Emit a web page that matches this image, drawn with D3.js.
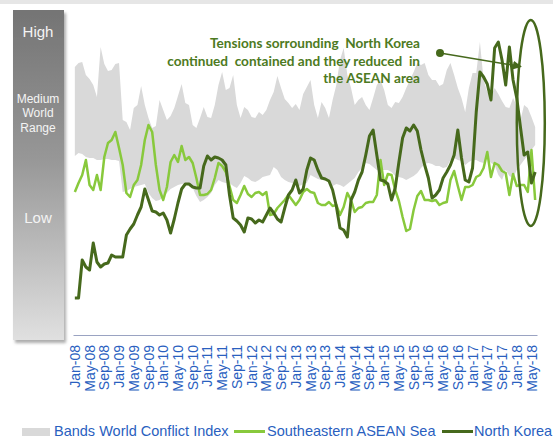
<!DOCTYPE html>
<html>
<head>
<meta charset="utf-8">
<title>World Conflict Index - North Korea vs ASEAN</title>
<script src="https://cdnjs.cloudflare.com/ajax/libs/d3/7.8.5/d3.min.js"></script>
<style>
  body { margin: 0; background: #fff; }
  svg { display: block; font-family: "Liberation Sans", Arial, sans-serif; }
</style>
</head>
<body>
<div id="chart"></div>
<script>
// monthly index values, Jan-08 .. Jun-18 (unitless index, 0 = bottom of chart)
var bandHigh = [131.5,133.5,134,127.5,125.5,122.5,116.5,141.5,133,129.5,
  130,133,133.5,105,104,100,111,112.5,122,112.5,
  106,101,102,115,110,105,107,111,117,123,
  113.5,112.5,102.5,101,106,111.5,106.5,106,112.5,122.5,
  129,120,121,127.5,112.5,106,111.5,110,106.5,106,
  109,107.5,110,115,119,127,121,115.5,113.5,111,
  113,110,118,121.5,125,112.5,106,114,111,106,
  115,122.5,135,141,127.5,121,112.5,115,116.5,112.5,
  110,116,122.5,125,120,112.5,111,114,113.5,116.5,
  121,125,129,133.5,132.5,133.5,127.5,125,125,122,
  123,130,133.5,127.5,121,116,109,121,128.5,128.5,
  144,125,119,117,121,118,114.5,111.5,111,116,
  112,105,112.5,111,106.5,101.5];

var bandLow = [87,88.5,88,86.5,86,86,85,85,85.5,85.5,
  85,85,84.5,69,69.5,70.5,71.5,72,72.5,73,
  68.5,66,64.5,65,66.5,68.5,70.5,71.5,72.5,73,
  73.5,73.5,71,67,64,65,66.5,68.5,72.5,75,
  74,73.5,73.5,72,71,73.5,77,76,74.5,74,
  75,76.5,77,77.5,81.5,80,76.5,75,74,73.5,
  72.5,72,73,73.5,77.5,76.5,75.5,75,76,73.5,
  72,73,72.5,71.5,73,74.5,76,79,81,83.5,
  83,81.5,80,80,80,80,79,77,76.5,76,
  75,76,77,78.5,81,83,83.5,83,82,82,
  81,81.5,85,86,85,84.5,82.5,84,85,85,
  84,83.5,86,83.5,82.5,77.5,75,80,77,76,
  80,82.5,85,87.5,90,92.5];

var asean = [69,73.5,77.5,85,72.5,70,77.5,70,86.5,93.5,
  95,99,91,82.5,68.5,66.5,72.5,75,82.5,95,
  102.5,99,82.5,70,65,71.5,84,87.5,84,92,
  85,86.5,83.5,76,67.5,67.5,68,70,76,83.5,
  82,79,72,65,63.5,67.5,72,68,66.5,68.5,
  69,67.5,69,57.5,58,61,63,65,67.5,65,
  62.5,65,69,70.5,69,68.5,63.5,62.5,62.5,64,
  62,62.5,57.5,61.5,68.5,65,59,61,61.5,63.5,
  64,64,67.5,85,72.5,78,77.5,70,64.5,56.5,
  49.5,50.5,60,67,69.5,65,65,64.5,65,62.5,
  63.5,64,75,79.5,72,65,71.5,71.5,72.5,76.5,
  77.5,81,89,76.5,83.5,82.5,79.5,78.5,67.5,78,
  72,72.5,72.5,69,90,65];

var northKorea = [16,16,35,31.5,30,43.5,34,31.5,33,33.5,
  37.5,36.5,36.5,36.5,47.5,50.5,53,57.5,61.5,70.5,
  65,59.5,59,57.5,58.5,55,48.5,55.5,63.5,70.5,
  73,73,71.5,71,71,82,87,85,86.5,86,
  85,82.5,67.5,56,54.5,52.5,49,56,55.5,53.5,
  55,54,57.5,61,58.5,55.5,54,61,67.5,70,
  75,68.5,70.5,80,86,85,80,76,75.5,74.5,
  70,62,51,50,46.5,65,69,75,79,87.5,
  97,100,87.5,75,74.5,73,65,71,84,96,
  101,99.5,102.5,99.5,90,82.5,76,66,67.5,70,
  76,79,82.5,87.5,100,86,75,74,81,109,
  129,126.5,123,115,141,144,135,122.5,141.5,125,
  116,101.5,87.5,89,73.5,79];

var tickLabels = ["Jan-08","May-08","Sep-08","Jan-09","May-09","Sep-09","Jan-10","May-10",
  "Sep-10","Jan-11","May-11","Sep-11","Jan-12","May-12","Sep-12","Jan-13","May-13","Sep-13",
  "Jan-14","May-14","Sep-14","Jan-15","May-15","Sep-15","Jan-16","May-16","Sep-16","Jan-17",
  "May-17","Sep-17","Jan-18","May-18"];

var levelLabels = ["High", "Medium", "World", "Range", "Low"];
var seriesNames = ["Bands World Conflict Index", "Southeastern ASEAN Sea", "North Korea"];
var noteLines = ["Tensions sorrounding\u00a0 North Korea", "continued\u00a0 contained and they reduced\u00a0 in", "the ASEAN area"];

var W = 553, H = 439;
var lightGreen = "#88c93c", darkGreen = "#46691c", bandGray = "#d9d9d9", blue = "#2a5fbf";

var fmt = d3.timeFormat("%b-%y");
var months = d3.timeMonths(new Date(2008, 0, 1), new Date(2018, 6, 1)).map(fmt);

var x = d3.scaleBand().domain(months).range([73, 537]).padding(0);
var y = d3.scaleLinear().domain([0, 160]).range([330, 10]);
var cx = function(i){ return x(months[i]) + x.bandwidth() / 2; };

var svg = d3.select("#chart").append("svg")
  .attr("width", W).attr("height", H);

var defs = svg.append("defs");
var grad = defs.append("linearGradient").attr("id", "barGrad")
  .attr("x1", 0).attr("y1", 0).attr("x2", 0).attr("y2", 1);
grad.append("stop").attr("offset", "0%").attr("stop-color", "#747474");
grad.append("stop").attr("offset", "45%").attr("stop-color", "#979797");
grad.append("stop").attr("offset", "100%").attr("stop-color", "#e0e0e0");

var shadow = defs.append("filter").attr("id", "shadow")
  .attr("x", "-20%").attr("y", "-5%").attr("width", "150%").attr("height", "115%");
shadow.append("feDropShadow").attr("dx", 2).attr("dy", 3)
  .attr("stdDeviation", 1.5).attr("flood-color", "#777").attr("flood-opacity", 0.6);

defs.append("marker").attr("id", "arrow")
  .attr("viewBox", "0 0 10 10").attr("refX", 9).attr("refY", 5)
  .attr("markerWidth", 6).attr("markerHeight", 6).attr("orient", "auto")
  .append("path").attr("d", "M0,0L10,5L0,10z").attr("fill", darkGreen);

// top strip
svg.append("rect").attr("x", 0).attr("y", 0).attr("width", W).attr("height", 4)
  .attr("fill", "#e6e6e6");

// left level bar
svg.append("rect").attr("x", 13).attr("y", 10).attr("width", 51).attr("height", 330)
  .attr("fill", "url(#barGrad)").attr("filter", "url(#shadow)");

var lvl = svg.append("g").attr("fill", "#f4f4f4").attr("text-anchor", "middle");
lvl.append("text").attr("x", 38).attr("y", 37).attr("font-size", 15).text(levelLabels[0]);
lvl.append("text").attr("x", 38).attr("y", 103).attr("font-size", 12).text(levelLabels[1]);
lvl.append("text").attr("x", 38).attr("y", 117).attr("font-size", 12).text(levelLabels[2]);
lvl.append("text").attr("x", 38).attr("y", 132).attr("font-size", 12).text(levelLabels[3]);
lvl.append("text").attr("x", 38).attr("y", 223).attr("font-size", 15).text(levelLabels[4]);

// conflict band
var area = d3.area()
  .x(function(d, i){ return cx(i); })
  .y0(function(d, i){ return y(bandLow[i]); })
  .y1(function(d){ return y(d); });
svg.append("path").datum(bandHigh).attr("d", area).attr("fill", bandGray);

var line = d3.line()
  .x(function(d, i){ return cx(i); })
  .y(function(d){ return y(d); });

svg.append("path").datum(asean).attr("d", line)
  .attr("fill", "none").attr("stroke", lightGreen).attr("stroke-width", 2.5)
  .attr("stroke-linejoin", "round");

svg.append("path").datum(northKorea).attr("d", line)
  .attr("fill", "none").attr("stroke", darkGreen).attr("stroke-width", 3)
  .attr("stroke-linejoin", "round");

// x axis
var ax = svg.append("g").attr("transform", "translate(0,335)")
  .call(d3.axisBottom(x).tickValues(tickLabels).tickSize(0).tickSizeOuter(0));
ax.select(".domain").attr("stroke", "#9aa3c2");
ax.selectAll("text")
  .attr("transform", "rotate(-90)")
  .attr("text-anchor", "end")
  .attr("x", -10).attr("y", 0).attr("dy", "0.36em")
  .attr("fill", blue)
  .style("font-family", "'Liberation Sans', Arial, sans-serif")
  .style("font-size", "14px");

// annotation
var note = svg.append("g").attr("fill", "#4d7a22").attr("text-anchor", "end")
  .style("font-family", "Lato, 'Open Sans', sans-serif").style("font-weight", "bold")
  .style("font-size", "13.6px");
noteLines.forEach(function(t, i){
  note.append("text").attr("x", 420).attr("y", 48 + i * 17.5).text(t);
});

svg.append("circle").attr("cx", 440).attr("cy", 53).attr("r", 4).attr("fill", darkGreen);
svg.append("line").attr("x1", 440).attr("y1", 53).attr("x2", 521).attr("y2", 66.5)
  .attr("stroke", darkGreen).attr("stroke-width", 1.5).attr("marker-end", "url(#arrow)");

svg.append("ellipse")
  .attr("cx", cx(123) + 3).attr("cy", y(103.5))
  .attr("rx", 14).attr("ry", (y(52) - y(155)) / 2)
  .attr("fill", "none").attr("stroke", darkGreen).attr("stroke-width", 2.5);

// legend
var leg = svg.append("g").style("font-size", "14.5px").attr("fill", blue);
leg.append("rect").attr("x", 22).attr("y", 428).attr("width", 28).attr("height", 8).attr("fill", bandGray);
leg.append("text").attr("x", 54).attr("y", 436).text(seriesNames[0]);
leg.append("line").attr("x1", 234).attr("x2", 265).attr("y1", 431.5).attr("y2", 431.5)
  .attr("stroke", lightGreen).attr("stroke-width", 3);
leg.append("text").attr("x", 267).attr("y", 436).text(seriesNames[1]);
leg.append("line").attr("x1", 442).attr("x2", 473).attr("y1", 431.5).attr("y2", 431.5)
  .attr("stroke", darkGreen).attr("stroke-width", 3);
leg.append("text").attr("x", 474).attr("y", 436).text(seriesNames[2]);
</script>
</body>
</html>
